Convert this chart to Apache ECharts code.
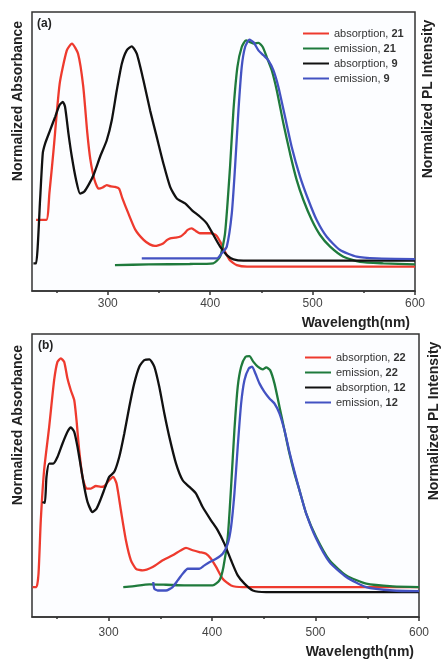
<!DOCTYPE html>
<html>
<head>
<meta charset="utf-8">
<script src="https://cdn.jsdelivr.net/npm/echarts@6/dist/echarts.min.js"></script>
<style>
html,body{margin:0;padding:0;background:#fff;}
#chart{width:443px;height:661px;}
</style>
</head>
<body>
<div id="chart"></div>
<script>
// ---- Data (wavelength nm, normalized intensity) ----
const xTickLabels = [300, 400, 500, 600];
const xMinorTicks = [250, 350, 450, 550];

const legendA = ['absorption, 21', 'emission, 21', 'absorption, 9', 'emission, 9'];
const legendB = ['absorption, 22', 'emission, 22', 'absorption, 12', 'emission, 12'];

const absorption21 = [[230,0.21],[240,0.21],[243,0.33],[247,0.52],[253,0.82],[260,0.97],[265,1.0],[271,0.955],[276,0.81],[280,0.6],[283,0.48],[287,0.39],[291,0.35],[295,0.355],[299,0.366],[303,0.36],[307,0.358],[311,0.35],[314,0.31],[320,0.24],[327,0.165],[335,0.12],[341,0.1],[346,0.093],[350,0.097],[354,0.104],[358,0.12],[361,0.127],[366,0.13],[371,0.135],[375,0.15],[378,0.165],[382,0.172],[386,0.16],[390,0.15],[395,0.15],[401,0.15],[406,0.14],[410,0.11],[413,0.08],[419,0.03],[426,0.007],[436,0],[600,0]];
const emission21 = [[307,0.007],[340,0.01],[380,0.012],[403,0.015],[409.7,0.045],[414.5,0.149],[419.4,0.448],[422.7,0.701],[426.6,0.896],[430.8,0.985],[435,1.015],[438.9,1.007],[442.9,1.0],[447.1,1.004],[451.3,0.985],[455.2,0.94],[460.1,0.881],[465,0.791],[471.5,0.642],[478,0.507],[484.5,0.388],[491,0.299],[499.2,0.209],[507.3,0.142],[517.1,0.09],[530.1,0.045],[546.3,0.022],[569.1,0.015],[600,0.01]];
const absorption9 = [[227.4,0.015],[230,0.015],[233.9,0.3],[236.5,0.507],[238.8,0.552],[243.7,0.612],[248.6,0.672],[252.8,0.724],[256.1,0.739],[258.3,0.716],[261.6,0.597],[264.9,0.493],[269.1,0.388],[273,0.328],[276.9,0.336],[281.1,0.366],[286,0.41],[292.5,0.493],[299,0.567],[303.9,0.657],[308.8,0.791],[313.7,0.91],[318.5,0.97],[323.4,0.988],[328.3,0.955],[334.8,0.836],[341.3,0.701],[347.8,0.582],[354.3,0.463],[360.9,0.358],[367.4,0.306],[375.5,0.284],[382,0.254],[390.1,0.224],[396.6,0.194],[403.2,0.142],[409.7,0.09],[416.2,0.052],[422.7,0.033],[432.4,0.027],[600,0.027]];
const emission9 = [[333.2,0.037],[406.4,0.037],[411.3,0.06],[416.2,0.09],[421.1,0.239],[424.3,0.448],[427.6,0.701],[430.8,0.896],[434.1,0.985],[438.3,1.018],[442.2,1.007],[447.1,0.97],[452,0.948],[456.8,0.925],[461.7,0.881],[466.6,0.806],[473.1,0.672],[479.6,0.537],[487.8,0.403],[495.9,0.299],[504,0.209],[513.8,0.134],[526.8,0.075],[543.1,0.045],[562.6,0.037],[600,0.034]];

const absorption22 = [[226.5,0],[230.3,0],[232.3,0.058],[234.5,0.292],[237.7,0.511],[242.6,0.701],[247.4,0.905],[250.6,0.985],[253.9,1.0],[257.1,0.985],[260.3,0.912],[263.5,0.861],[266.8,0.818],[269,0.73],[271.6,0.599],[274.8,0.482],[278.7,0.431],[282.9,0.431],[287.7,0.442],[292.6,0.438],[295.8,0.441],[300.6,0.467],[304.5,0.482],[307.7,0.453],[311.9,0.336],[316.8,0.204],[321.6,0.117],[326.5,0.08],[332.9,0.073],[342.6,0.088],[352.3,0.117],[361.9,0.139],[370,0.161],[374.8,0.171],[381.3,0.161],[387.7,0.153],[394.2,0.146],[399,0.124],[403.9,0.088],[410.3,0.036],[418.4,0.007],[429.7,0],[600,0]];
const emission22 = [[314.2,0],[323,0.003],[339.4,0.012],[355.5,0.01],[374.8,0.007],[400.6,0.007],[407.1,0.029],[411,0.088],[415.2,0.219],[418.4,0.438],[421.6,0.686],[424.8,0.876],[428.1,0.964],[432.3,1.007],[436.1,1.01],[440,0.985],[444.2,0.964],[449,0.952],[452.3,0.961],[456.1,0.949],[460.3,0.891],[465.2,0.788],[470,0.686],[474.8,0.584],[479.7,0.496],[484.5,0.423],[491,0.321],[500.6,0.219],[513.5,0.117],[529.7,0.051],[549,0.015],[574.8,0.003],[600,0]];
const absorption12 = [[236.1,0.372],[238.4,0.368],[240,0.482],[242.6,0.54],[246.5,0.54],[250.6,0.569],[255.5,0.628],[260.3,0.679],[263.5,0.698],[266.8,0.679],[270,0.613],[273.2,0.526],[276.5,0.438],[279.7,0.372],[284.5,0.328],[288.4,0.343],[292.6,0.387],[296.8,0.438],[300.6,0.482],[305.5,0.504],[310.3,0.569],[315.2,0.672],[320,0.788],[324.8,0.891],[329.7,0.964],[334.5,0.993],[339.4,0.996],[344.2,0.964],[349,0.876],[353.9,0.759],[358.7,0.657],[365.2,0.54],[371.6,0.467],[378.1,0.438],[384.5,0.409],[390.9,0.35],[399,0.292],[405.5,0.248],[411.9,0.19],[418.4,0.117],[424.8,0.051],[431.3,0.015],[439.4,-0.015],[452.3,-0.022],[600,-0.022]];
const emission12 = [[343.2,0.022],[344.2,-0.007],[347.4,-0.015],[355.5,-0.015],[361.9,0],[366.8,0.029],[371.6,0.058],[376.5,0.08],[381.3,0.08],[387.7,0.08],[392.6,0.095],[397.4,0.109],[403.9,0.124],[410.3,0.146],[415.2,0.19],[418.4,0.263],[421.6,0.409],[424.8,0.613],[428.1,0.803],[431.3,0.905],[435.5,0.956],[438.7,0.964],[441.9,0.934],[445.8,0.891],[450.6,0.854],[455.5,0.825],[460.3,0.803],[465.2,0.759],[470,0.686],[474.8,0.591],[479.7,0.504],[484.5,0.423],[491,0.321],[500.6,0.212],[513.5,0.109],[529.7,0.044],[549,0],[574.8,-0.015],[600,-0.018]];

const colors = ['#ee3a2e', '#1f7a3c', '#111111', '#4352c2'];

const chart = echarts.init(document.getElementById('chart'), null, {renderer: 'canvas'});

const grids = [
  {left: 32, top: 12, width: 383, height: 279, show: true, borderColor: '#333', borderWidth: 1.5, backgroundColor: '#fcfdff'},
  {left: 32, top: 334, width: 387, height: 283, show: true, borderColor: '#333', borderWidth: 1.5, backgroundColor: '#fcfdff'}
];

function xAxes(gi, margin) {
  return [
    {
      type: 'value', gridIndex: gi, min: 226, max: 600, position: 'bottom',
      axisLine: {show: true, onZero: false, lineStyle: {color: '#333', width: 1.5}},
      axisTick: {show: true, inside: false, length: 4, customValues: xTickLabels, lineStyle: {color: '#333', width: 1.5}},
      axisLabel: {show: true, customValues: xTickLabels, margin: margin, fontSize: 12, color: '#444', fontFamily: 'Liberation Sans, Arial, sans-serif'},
      splitLine: {show: false}
    },
    {
      type: 'value', gridIndex: gi, min: 226, max: 600, position: 'bottom',
      axisLine: {show: false, onZero: false},
      axisTick: {show: true, inside: false, length: 2, customValues: xMinorTicks, lineStyle: {color: '#333', width: 1.5}},
      axisLabel: {show: false},
      splitLine: {show: false}
    }
  ];
}

const yAxes = [
  {type: 'value', gridIndex: 0, min: -0.109, max: 1.142, show: false, axisLine: {onZero: false}, splitLine: {show: false}},
  {type: 'value', gridIndex: 1, min: -0.131, max: 1.107, show: false, axisLine: {onZero: false}, splitLine: {show: false}}
];

function mkSeries(name, data, color, xi, yi) {
  return {
    name: name, type: 'line', data: data, xAxisIndex: xi, yAxisIndex: yi,
    showSymbol: false, symbol: 'none', smooth: 0.2,
    lineStyle: {color: color, width: 2.3},
    itemStyle: {color: color},
    emphasis: {disabled: true}
  };
}

const seriesA = [absorption21, emission21, absorption9, emission9];
const seriesB = [absorption22, emission22, absorption12, emission12];
const series = [];
seriesA.forEach((d, i) => series.push(mkSeries(legendA[i], d, colors[i], 0, 0)));
seriesB.forEach((d, i) => series.push(mkSeries(legendB[i], d, colors[i], 2, 1)));

const legendFormatter = function (name) {
  const parts = name.split(', ');
  return parts[0] + ', {b|' + parts[1] + '}';
};
function mkLegend(data, left, top) {
  return {
    data: data, left: left, top: top, padding: 0,
    orient: 'vertical', icon: 'rect', itemWidth: 26, itemHeight: 2, itemGap: 2,
    selectedMode: false,
    textStyle: {fontSize: 11, lineHeight: 13, color: '#333', fontFamily: 'Liberation Sans, Arial, sans-serif',
      rich: {b: {fontSize: 11, lineHeight: 13, fontWeight: 'bold', color: '#333', fontFamily: 'Liberation Sans, Arial, sans-serif'}}},
    formatter: legendFormatter
  };
}

const labelFont = 'bold 14px "Liberation Sans", Arial, sans-serif';

chart.setOption({
  animation: false,
  backgroundColor: '#ffffff',
  grid: grids,
  xAxis: xAxes(0, 7).concat(xAxes(1, 10)),
  yAxis: yAxes,
  legend: [mkLegend(legendA, 303, 27), mkLegend(legendB, 305, 351)],
  series: series,
  graphic: [
    {type: 'text', left: 37, top: 18, style: {text: '(a)', font: 'bold 12px "Liberation Sans", Arial, sans-serif', fill: '#222'}},
    {type: 'text', left: 38, top: 340, style: {text: '(b)', font: 'bold 12px "Liberation Sans", Arial, sans-serif', fill: '#222'}},
    {type: 'text', x: 18, y: 101, rotation: Math.PI / 2, style: {text: 'Normalized Absorbance', font: labelFont, fill: '#222', align: 'center', verticalAlign: 'middle'}},
    {type: 'text', x: 428, y: 99, rotation: Math.PI / 2, style: {text: 'Normalized PL Intensity', font: labelFont, fill: '#222', align: 'center', verticalAlign: 'middle'}},
    {type: 'text', x: 18, y: 425, rotation: Math.PI / 2, style: {text: 'Normalized Absorbance', font: labelFont, fill: '#222', align: 'center', verticalAlign: 'middle'}},
    {type: 'text', x: 434, y: 421, rotation: Math.PI / 2, style: {text: 'Normalized PL Intensity', font: labelFont, fill: '#222', align: 'center', verticalAlign: 'middle'}},
    {type: 'text', x: 410, y: 323, style: {text: 'Wavelength(nm)', font: labelFont, fill: '#222', align: 'right', verticalAlign: 'middle'}},
    {type: 'text', x: 414, y: 652, style: {text: 'Wavelength(nm)', font: labelFont, fill: '#222', align: 'right', verticalAlign: 'middle'}}
  ]
});
</script>
</body>
</html>
